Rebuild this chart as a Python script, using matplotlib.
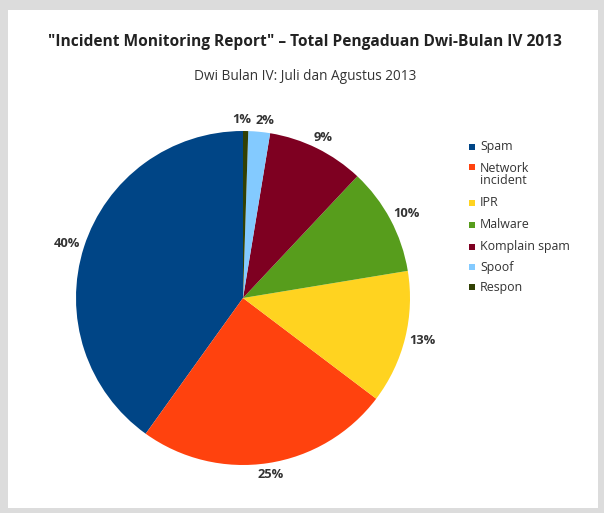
import numpy as np
import matplotlib.pyplot as plt
from matplotlib.patches import Rectangle

plt.rcParams['font.family'] = ['Open Sans', 'DejaVu Sans']

# data (slice sizes, labels as printed)
categories = ['Spam', 'Network\nincident', 'IPR', 'Malware', 'Komplain spam', 'Spoof', 'Respon']
values = [40.1, 24.6, 12.9, 10.4, 9.4, 2.1, 0.5]
pct_labels = ['40%', '25%', '13%', '10%', '9%', '2%', '1%']
colors = ['#004586', '#ff420e', '#ffd320', '#579d1c', '#7e0021', '#83caff', '#314004']

W, H = 604, 513
fig = plt.figure(figsize=(W / 100, H / 100), dpi=100)
fig.patch.set_facecolor('#dcdcdc')
# white inner panel
fig.patches.append(Rectangle((8 / W, 5 / H), 590 / W, 498 / H, transform=fig.transFigure,
                             facecolor='white', edgecolor='none', zorder=-5))

fig.text(305 / W, 1 - 42 / H, '"Incident Monitoring Report" \u2013 Total Pengaduan Dwi-Bulan IV 2013',
         ha='center', va='center', fontsize=11.2, fontweight='bold', color='#222222')
fig.text(305 / W, 1 - 76 / H, 'Dwi Bulan IV: Juli dan Agustus 2013',
         ha='center', va='center', fontsize=9.8, color='#333333')

cx, cy, r = 243, 298, 167
ax = fig.add_axes([(cx - r) / W, (H - cy - r) / H, 2 * r / W, 2 * r / H])
ax.patch.set_alpha(0)
wedges, texts = ax.pie(values, colors=colors, labels=pct_labels, startangle=90,
                       counterclock=True, labeldistance=1.1,
                       textprops=dict(fontsize=9.3, fontweight='bold', color='#333333'))
ax.set_xlim(-1, 1)
ax.set_ylim(-1, 1)
ax.set_aspect('equal')

# place each label with its box just outside the rim (like office charts)
fig.canvas.draw()
gap = 5
boxes = []
for w, t in zip(wedges, texts):
    t.set_ha('center')
    t.set_va('center')
    th = np.deg2rad((w.theta1 + w.theta2) / 2)
    bb = t.get_window_extent()
    px = (r + gap) * np.cos(th) + bb.width / 2 * np.cos(th)
    py = (r + gap) * np.sin(th) + bb.height / 2 * np.sin(th)
    boxes.append([px, py, bb.width, bb.height])

# push apart labels that collide (the tiny slices at the top)
for i in range(len(boxes)):
    for j in range(i + 1, len(boxes)):
        a, b = boxes[i], boxes[j]
        ox = (a[2] + b[2]) / 2 + 5 - abs(a[0] - b[0])
        oy = (a[3] + b[3]) / 2 - abs(a[1] - b[1])
        if ox > 0 and oy > 0:
            s = 1 if a[0] >= b[0] else -1
            a[0] += s * ox / 2
            b[0] -= s * ox / 2

for t, (px, py, bw, bh) in zip(texts, boxes):
    t.set_position((px / r, py / r))

# legend
lx = 469
ly = [147, 174.5, 203, 225, 247, 267, 287]
for name, col, y in zip(categories, colors, ly):
    top = y - 7.5 if '\n' in name else y
    fig.patches.append(Rectangle((lx / W, (H - top - 3) / H), 6 / W, 6 / H,
                                 transform=fig.transFigure, facecolor=col, edgecolor='none'))
    fig.text(480 / W, 1 - y / H, name, ha='left', va='center', fontsize=8.9,
             color='#333333', linespacing=0.95)

fig.savefig('out.png', dpi=100, facecolor=fig.get_facecolor())
